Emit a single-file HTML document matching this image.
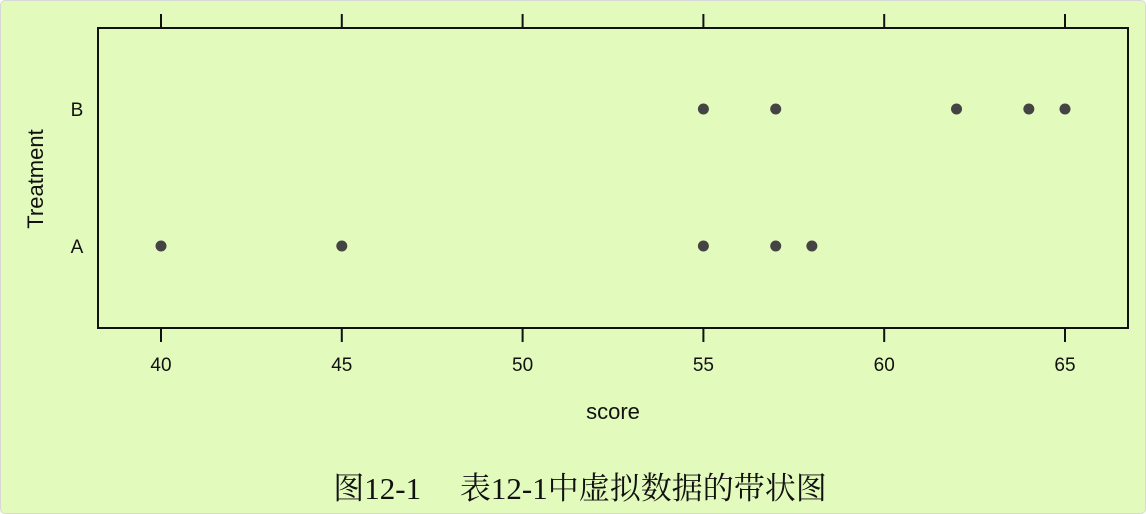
<!DOCTYPE html>
<html><head><meta charset="utf-8"><style>
body{margin:0;background:#fff}
#wrap{position:absolute;left:0;top:0;width:1144px;height:512px;border:1px solid #d8d8d8;border-radius:5px;background:#e3fabd;overflow:hidden}
svg{position:absolute;left:0;top:0}
</style></head><body>
<div id="wrap">
<svg id="c" width="1146" height="514"></svg>
</div>
<script>
const xTicks=[40,45,50,55,60,65];
const categories=["A","B"];
const scoresA=[40,45,55,57,58];
const scoresB=[55,57,62,64,65];
const NS="http://www.w3.org/2000/svg";
const svg=document.getElementById('c');
const L=97,R=1127,T=27,B=327;
function x(v){return 160+(v-40)*(1064-160)/25;}
function y(c){return c==="A"?245:108;}
function mk(t,a,p){const e=document.createElementNS(NS,t);for(const k in a)e.setAttribute(k,a[k]);(p||svg).appendChild(e);return e;}
const box=mk('rect',{x:L,y:T,width:R-L,height:B-T,fill:'none',stroke:'#111','stroke-width':2});


xTicks.forEach(v=>{
  const t1=mk('line',{x1:x(v),x2:x(v),y1:13,y2:T,stroke:'#111','stroke-width':2});
  
  
  const t2=mk('line',{x1:x(v),x2:x(v),y1:B,y2:341,stroke:'#111','stroke-width':2});
  
  
  const tx=mk('text',{x:x(v),y:370,'text-anchor':'middle','font-size':19,'font-family':'Liberation Sans, sans-serif',fill:'#111'});
  tx.textContent=v;
  
  
});
categories.forEach(c=>{
  const tx=mk('text',{x:76,y:y(c)+7,'text-anchor':'middle','font-size':19,'font-family':'Liberation Sans, sans-serif',fill:'#111'});
  tx.textContent=c;
  
  
});
[[scoresA,"A"],[scoresB,"B"]].forEach(([arr,c])=>arr.forEach(v=>{
  const p=mk('circle',{cx:x(v),cy:y(c),r:5.5,fill:'#444'});
  
  
}));
const xl=mk('text',{x:612,y:418,'text-anchor':'middle','font-size':22,'font-family':'Liberation Sans, sans-serif',fill:'#111'});
xl.textContent='score';


const yl=mk('text',{x:0,y:0,'text-anchor':'middle','font-size':22,'font-family':'Liberation Sans, sans-serif',fill:'#111',transform:'translate(42,178) rotate(-90)'});
yl.textContent='Treatment';


const cap=mk('text',{x:579,y:498,'text-anchor':'middle','font-size':31,'font-family':'Liberation Serif, Noto Serif CJK SC, serif',fill:'#111'});
cap.textContent='图12-1\u3000 表12-1中虚拟数据的带状图';


</script>
</body></html>
